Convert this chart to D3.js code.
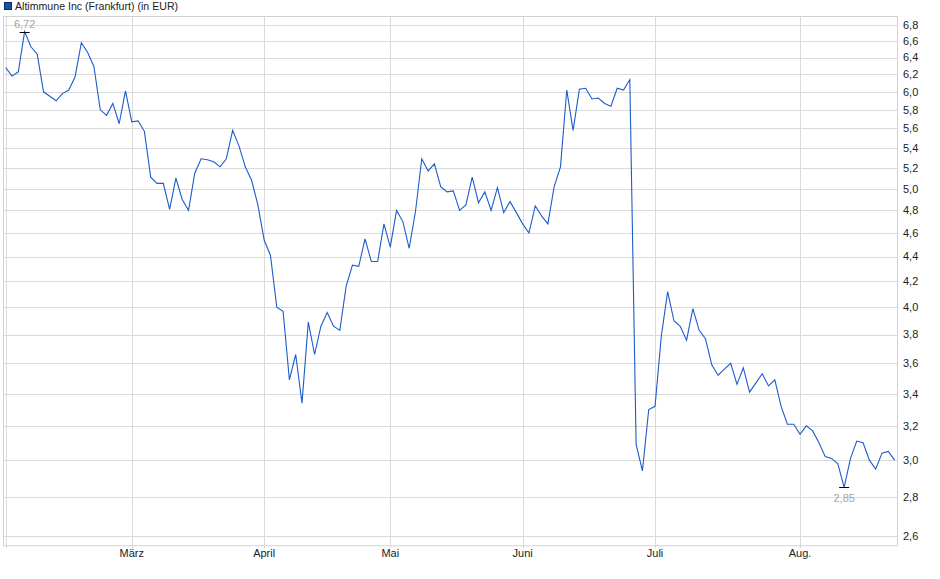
<!DOCTYPE html>
<html><head><meta charset="utf-8">
<script src="https://cdn.jsdelivr.net/npm/d3@7/dist/d3.min.js"></script>
<style>
html,body{margin:0;padding:0;background:#fff;}
svg{display:block;font-family:"Liberation Sans",Arial,sans-serif;}
</style></head>
<body>
<svg id="chart" width="940" height="579"></svg>
<script>
// ---- data ----
const title = "Altimmune Inc (Frankfurt) (in EUR)";
const startDate = "2025-02-03";
const holidays = ["2025-04-18", "2025-04-21", "2025-05-01"];
const monthLabels = ["", "März", "April", "Mai", "Juni", "Juli", "Aug."]; // Feb..Aug
const yTicks = [2.6, 2.8, 3.0, 3.2, 3.4, 3.6, 3.8, 4.0, 4.2, 4.4, 4.6, 4.8, 5.0, 5.2, 5.4, 5.6, 5.8, 6.0, 6.2, 6.4, 6.6, 6.8];
const pricesFeb = [6.28, 6.18, 6.23, 6.72, 6.53, 6.44, 6.00, 5.95, 5.90, 5.98, 6.02, 6.17, 6.58, 6.46, 6.29, 5.80, 5.74, 5.87, 5.65, 6.01];
const pricesMar = [5.67, 5.68, 5.57, 5.11, 5.05, 5.05, 4.81, 5.10, 4.90, 4.80, 5.15, 5.29, 5.28, 5.26, 5.21, 5.29, 5.58, 5.42, 5.21, 5.08, 4.85];
const pricesApr = [4.54, 4.41, 4.00, 3.97, 3.49, 3.66, 3.34, 3.89, 3.66, 3.86, 3.96, 3.86, 3.83, 4.16, 4.33, 4.32, 4.55, 4.36, 4.36, 4.68];
const pricesMay = [4.48, 4.80, 4.70, 4.47, 4.79, 5.29, 5.17, 5.24, 5.02, 4.97, 4.98, 4.80, 4.85, 5.11, 4.87, 4.97, 4.80, 5.01, 4.78, 4.88, 4.78];
const pricesJun = [4.68, 4.60, 4.84, 4.75, 4.68, 5.02, 5.21, 6.02, 5.58, 6.03, 6.04, 5.92, 5.93, 5.87, 5.84, 6.04, 6.02, 6.14, 3.09, 2.94, 3.30];
const pricesJul = [3.32, 3.79, 4.12, 3.90, 3.86, 3.76, 3.99, 3.83, 3.77, 3.59, 3.52, 3.56, 3.60, 3.46, 3.57, 3.41, 3.47, 3.53, 3.45, 3.49, 3.32, 3.21, 3.21];
const pricesAug = [3.15, 3.20, 3.17, 3.10, 3.02, 3.01, 2.98, 2.85, 3.01, 3.11, 3.10, 3.00, 2.95, 3.04, 3.05, 3.00];

const prices = [].concat(pricesFeb, pricesMar, pricesApr, pricesMay, pricesJun, pricesJul, pricesAug);

// trading days (weekdays without exchange holidays)
const fmt = d3.utcFormat("%Y-%m-%d");
const dates = [];
{
  let d = new Date(startDate + "T00:00:00Z");
  while (dates.length < prices.length) {
    const wd = d.getUTCDay();
    if (wd !== 0 && wd !== 6 && !holidays.includes(fmt(d))) dates.push(new Date(d));
    d = d3.utcDay.offset(d, 1);
  }
}
const data = prices.map((v, i) => ({i, date: dates[i], v}));

// month starts
const monthStarts = [];
data.forEach((d, k) => {
  if (k === 0 || d.date.getUTCMonth() !== data[k - 1].date.getUTCMonth()) monthStarts.push(d.i);
});

// ---- layout ----
const svg = d3.select("#chart");
const L = 3, R = 898, T = 16, B = 545.3;
const x = d3.scaleLinear().domain([0, prices.length - 1]).range([5.7, 894.6]);
const y = d3.scaleLog().domain([2.556, 6.92]).range([B, T]);
const gridColor = "#dadada";
const dec = v => d3.format(".1f")(v).replace(".", ",");
const dec2 = v => d3.format(".2f")(v).replace(".", ",");

// horizontal gridlines
svg.append("g").selectAll("line").data(yTicks).join("line")
  .attr("x1", L).attr("x2", R)
  .attr("y1", d => Math.round(y(d)) + 0.5).attr("y2", d => Math.round(y(d)) + 0.5)
  .attr("stroke", gridColor).attr("stroke-width", 1);

// vertical gridlines at month starts
svg.append("g").selectAll("line").data(monthStarts).join("line")
  .attr("x1", d => Math.round(x(d)) + 0.5).attr("x2", d => Math.round(x(d)) + 0.5)
  .attr("y1", T).attr("y2", B + 3)
  .attr("stroke", gridColor).attr("stroke-width", 1);

// frame
svg.append("rect").attr("x", L + 0.5).attr("y", T + 0.5)
  .attr("width", R - L - 1).attr("height", B - T)
  .attr("fill", "none").attr("stroke", "#d2d2d2");

// y labels
svg.append("g").selectAll("text").data(yTicks).join("text")
  .attr("x", 903).attr("y", d => y(d)).attr("dy", "0.35em")
  .attr("font-size", 11).attr("fill", "#222").text(dec);

// x labels
svg.append("g").selectAll("text").data(monthStarts).join("text")
  .attr("x", d => x(d)).attr("y", 557).attr("text-anchor", "middle")
  .attr("font-size", 11).attr("fill", "#222")
  .text((d, k) => monthLabels[k]);

// price line
const line = d3.line().x(d => x(d.i)).y(d => y(d.v));
svg.append("path").datum(data).attr("d", line)
  .attr("fill", "none").attr("stroke", "#1c5ccb").attr("stroke-width", 1.1)
  .attr("stroke-linejoin", "miter");

// max / min markers
const maxD = data.reduce((a, b) => b.v > a.v ? b : a);
const minD = data.reduce((a, b) => b.v < a.v ? b : a);
[[maxD, -1], [minD, 1]].forEach(([d, dir]) => {
  const px = x(d.i), py = Math.round(y(d.v)) + 0.5;
  svg.append("line").attr("x1", px - 5).attr("x2", px + 5)
    .attr("y1", py).attr("y2", py).attr("stroke", "#000").attr("stroke-width", 1);
  svg.append("text").attr("x", px).attr("y", dir < 0 ? py - 5 : py + 14)
    .attr("text-anchor", "middle").attr("font-size", 11).attr("fill", "#a6a6a6")
    .text(dec2(d.v));
});

// legend
svg.append("rect").attr("x", 4.5).attr("y", 2.5).attr("width", 7).attr("height", 7)
  .attr("fill", "#1a4fae").attr("stroke", "#0d2a66");
svg.append("text").attr("x", 15).attr("y", 10).attr("font-size", 10.6).attr("fill", "#222").text(title);
</script>
</body></html>
